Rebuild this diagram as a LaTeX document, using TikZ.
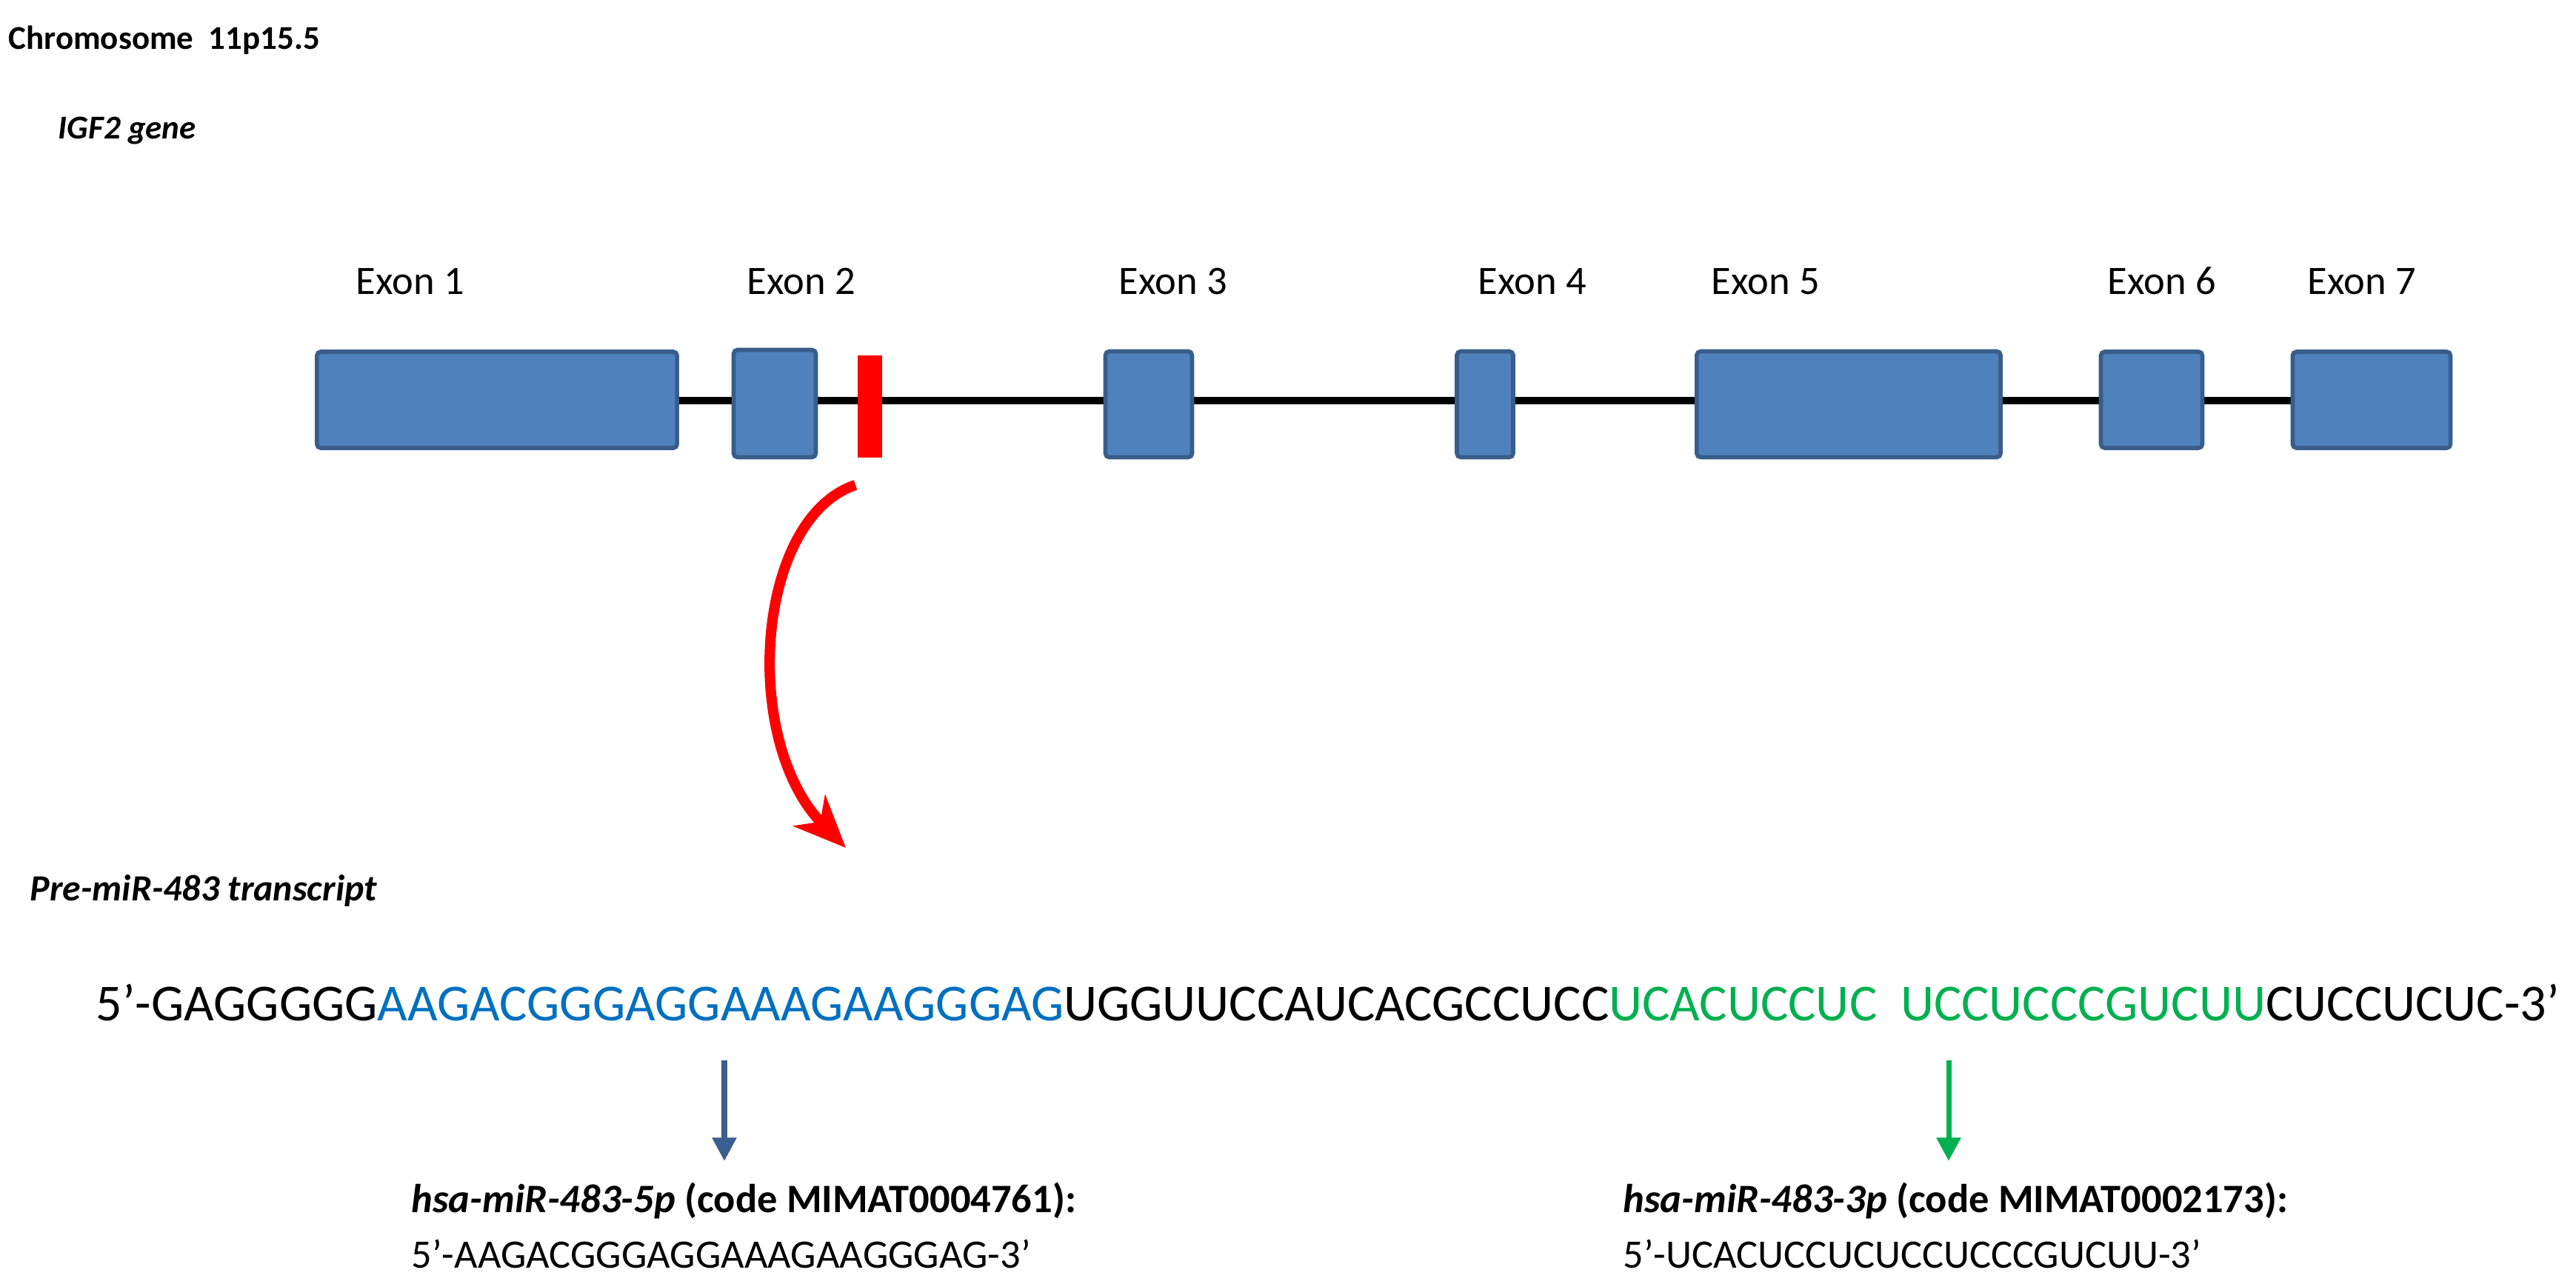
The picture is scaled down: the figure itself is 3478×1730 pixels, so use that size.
\documentclass[tikz,border=0pt]{standalone}
\usepackage{fontspec}
\setmainfont{Carlito}
\usetikzlibrary{arrows.meta,backgrounds}
\definecolor{exfill}{HTML}{4F81BD}
\definecolor{exdraw}{HTML}{385D8A}
\definecolor{seqblue}{HTML}{0070C0}
\definecolor{seqgreen}{HTML}{00B050}
\definecolor{arrblue}{HTML}{3B5E8F}
\begin{document}
\begin{tikzpicture}[x=0.01cm,y=-0.01cm,
  exon/.style={draw=exdraw,fill=exfill,line width=1.6pt,rounded corners=1.5pt,inner sep=0pt},
  exlab/.style={font=\fontsize{15.5}{18}\selectfont,anchor=base,inner sep=0pt},
  head/.style={font=\fontsize{12.8}{15}\selectfont\bfseries,anchor=base west,inner sep=0pt},
  mir/.style={font=\fontsize{15.5}{18}\selectfont,anchor=base west,inner sep=0pt},
  dnarrow/.style={line width=2pt,arrows={-Triangle[length=9pt,width=9pt]}}]
\useasboundingbox (0,0) rectangle (3478,1730);
\node[head] (chr) at (11,67) {Chromosome \ 11p15.5};
\node[head,font=\fontsize{12.8}{15}\selectfont\bfseries\itshape] (igf) at (78,187) {IGF2 gene};
\node[exon,minimum width=4.86cm,minimum height=1.30cm] (e1) at (671,540) {};
\node[exon,minimum width=1.11cm,minimum height=1.45cm] (e2) at (1046,545) {};
\node[draw=none,fill=red,minimum width=0.33cm,minimum height=1.38cm,inner sep=0pt] (mr) at (1174,549) {};
\node[exon,minimum width=1.17cm,minimum height=1.43cm] (e3) at (1551,546) {};
\node[exon,minimum width=0.76cm,minimum height=1.43cm] (e4) at (2005,546) {};
\node[exon,minimum width=4.10cm,minimum height=1.43cm] (e5) at (2496,546) {};
\node[exon,minimum width=1.37cm,minimum height=1.30cm] (e6) at (2905,540) {};
\node[exon,minimum width=2.13cm,minimum height=1.30cm] (e7) at (3202,540) {};
\begin{scope}[on background layer]
\draw[line width=2.6pt] (e1.east |- 0,541) coordinate (ls) -- (e7.west |- 0,541) coordinate (le);
\end{scope}
\node[exlab] (l1) at (554,397) {Exon 1};
\node[exlab] (l2) at (1082,397) {Exon 2};
\node[exlab] (l3) at (1584,397) {Exon 3};
\node[exlab] (l4) at (2069,397) {Exon 4};
\node[exlab] (l5) at (2384,397) {Exon 5};
\node[exlab] (l6) at (2919,397) {Exon 6};
\node[exlab] (l7) at (3189,397) {Exon 7};
\coordinate (as) at (1155,655);
\coordinate (ae) at (1142,1145);
\draw[red,line width=4pt,-{Stealth[length=20pt,width=17pt,inset=6pt]}] (as) .. controls (1020,700) and (1000,1000) .. (ae);
\node[head,font=\fontsize{14.2}{17}\selectfont\bfseries\itshape] (pre) at (40,1216) {Pre-miR-483 transcript};
\node[anchor=base west,inner sep=0pt] (seq) at (129,1378) {\resizebox{33.24cm}{!}{\fontsize{19}{22}\selectfont 5’-GAGGGGG\textcolor{seqblue}{AAGACGGGAGGAAAGAAGGGAG}UGGUUCCAUCACGCCUCC\textcolor{seqgreen}{UCACUCCUC\ \ UCCUCCCGUCUU}CUCCUCUC-3’}};
\coordinate (b1) at (978,1432);
\coordinate (b2) at (978,1568);
\coordinate (g1) at (2631,1432);
\coordinate (g2) at (2631,1568);
\draw[dnarrow,arrblue] (b1) -- (b2);
\draw[dnarrow,seqgreen] (g1) -- (g2);
\node[mir] (m5) at (555,1637) {\textbf{\textit{hsa-miR-483-5p} (code MIMAT0004761):}};
\node[mir] (m5s) at (555,1712) {5’-AAGACGGGAGGAAAGAAGGGAG-3’};
\node[mir] (m3) at (2191,1637) {\textbf{\textit{hsa-miR-483-3p} (code MIMAT0002173):}};
\node[mir] (m3s) at (2191,1712) {5’-UCACUCCUCUCCUCCCGUCUU-3’};
\end{tikzpicture}
\end{document}
